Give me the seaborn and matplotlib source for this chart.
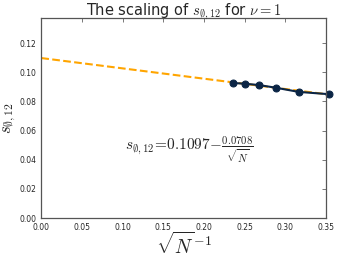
import numpy as np
import pandas as pd
import matplotlib
matplotlib.use("Agg")
import matplotlib.pyplot as plt
import seaborn as sns

# inverse square root of system size, and the measured quantity
inv_sqrt_n = [0.2357, 0.2500, 0.2673, 0.2887, 0.3162, 0.3536]
s_values = [0.0926, 0.0921, 0.0912, 0.0893, 0.0865, 0.0849]

fit_a = 0.1097
fit_b = 0.0708
fit_x = [0.0, 0.35]

sns.set_style("white")
plt.rcParams["mathtext.fontset"] = "cm"
plt.rcParams["font.family"] = ["DejaVu Sans"]

df = pd.DataFrame({"x": inv_sqrt_n, "s": s_values})
fit_df = pd.DataFrame({"x": fit_x, "s": [fit_a - fit_b * v for v in fit_x]})

fig, ax = plt.subplots(figsize=(3.44, 2.58), dpi=100)
sns.lineplot(data=fit_df, x="x", y="s", ax=ax, color="orange", linestyle="--", linewidth=1.5)
sns.lineplot(data=df, x="x", y="s", ax=ax, color="#0b2545", marker="o", markersize=5,
             markeredgecolor="#0b2545", linewidth=1.5)
for ln in ax.lines[1:]:
    ln.set_clip_on(False)

ax.set_xlim(0, 0.35)
ax.set_ylim(0, fit_a * 1.25)
ax.set_xticks(np.arange(0, 0.351, 0.05))
ax.set_yticks(np.arange(0, 0.121, 0.02))
ax.tick_params(direction="in", labelsize=5.5, top=True, right=True, length=3, width=0.5, color="#444444")
for sp in ax.spines.values():
    sp.set_color("#555555")
    sp.set_linewidth(0.9)

ax.set_title(r"The scaling of $s_{\emptyset,12}$ for $\nu=1$", fontsize=10.5, pad=2)
ax.set_xlabel(r"$\sqrt{N}^{-1}$", fontsize=14, labelpad=0)
ax.set_ylabel(r"$s_{\emptyset,12}$", fontsize=12, labelpad=1)
ax.text(0.182, 0.0466, r"$s_{\emptyset,12}\!=\!0.1097\!-\!\frac{0.0708}{\sqrt{N}}$",
        fontsize=11, ha="center", va="center")

fig.subplots_adjust(left=0.12, right=0.948, top=0.93, bottom=0.155)
fig.savefig("out.png", dpi=100)
